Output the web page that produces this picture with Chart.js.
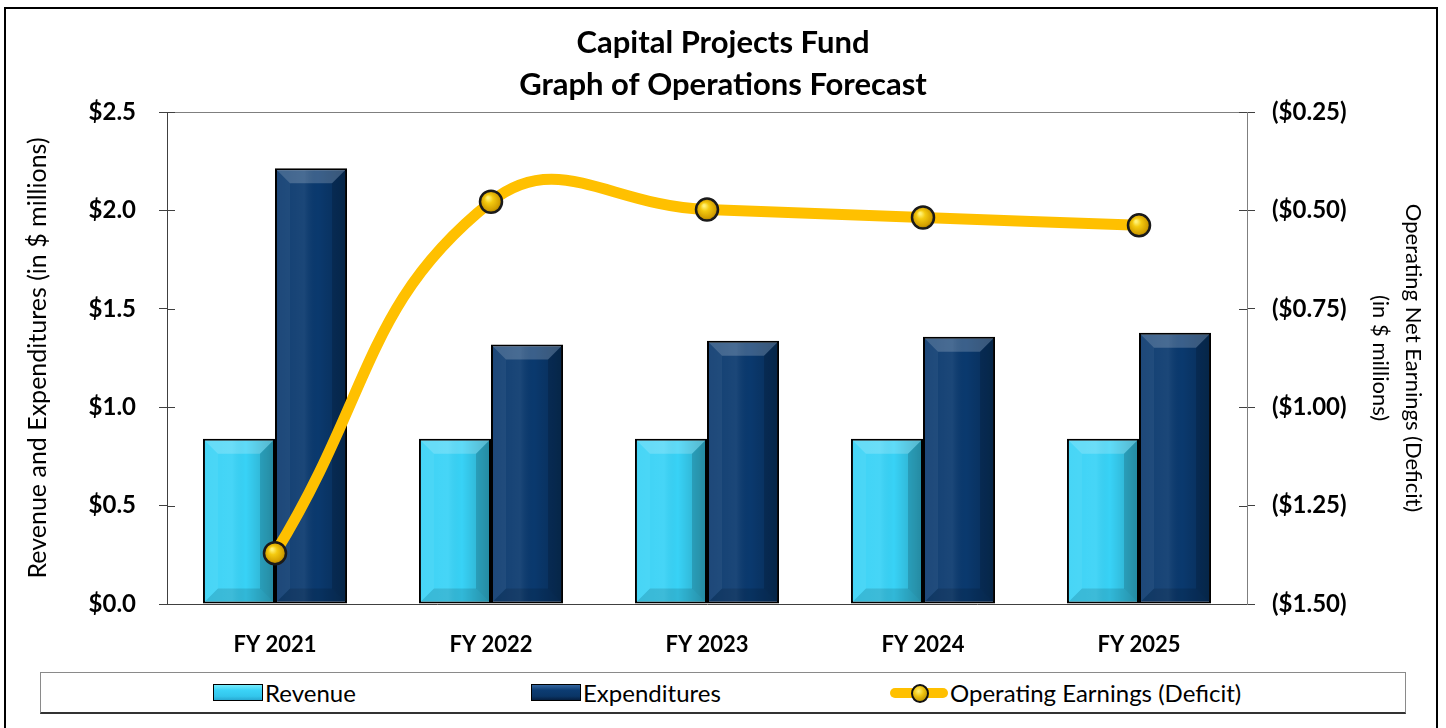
<!DOCTYPE html>
<html>
<head>
<meta charset="utf-8">
<title>Capital Projects Fund</title>
<script src="https://cdn.jsdelivr.net/npm/chart.js@4.4.0/dist/chart.umd.min.js"></script>
<style>
  html, body { margin: 0; padding: 0; background: #fff; overflow: hidden; }
  body { width: 1446px; height: 728px; position: relative; font-family: Lato, "Open Sans", sans-serif; }
  #frame { position: absolute; left: 4px; top: 7px; width: 1430px; height: 740px; border: 2px solid #000; pointer-events: none; }
  #chartBox { position: absolute; left: 0; top: 0; width: 1446px; height: 660px; }
  #legend { position: absolute; left: 40px; top: 672px; width: 1364px; height: 39px; border: 1px solid #8a8a8a; border-bottom: 2px solid #333; }
  .item { position: absolute; top: 0; height: 39px; display: flex; align-items: center; font-size: 24px; color: #000; white-space: nowrap; }
  .swatch { width: 48px; height: 15px; border: 1px solid #000; margin-right: 2px; }
  .rev { background: linear-gradient(#78ecfc, #3bd3f7 35%, #33c6ec 75%, #28a9d2); }
  .exp { background: linear-gradient(#3466a0, #0c3c72 35%, #0a3566 75%, #061f40); }
  .lineMark { position: relative; width: 58px; height: 24px; margin-right: 2px; }
  .lineMark .bar { position: absolute; left: 0; right: 0; top: 7px; height: 10px; background: #FFC000; border-radius: 5px; }
  .lineMark .dot { position: absolute; left: 21px; top: 3px; width: 14px; height: 15px; border: 2px solid #111; border-radius: 50%;
                   background: radial-gradient(circle at 40% 35%, #fff176, #eec20e 40%, #a57e00); }
</style>
</head>
<body>
<div id="chartBox"><canvas id="opsChart"></canvas></div>
<div id="legend">
  <div class="item" style="left:172px;"><div class="swatch rev"></div>Revenue</div>
  <div class="item" style="left:490px;"><div class="swatch exp"></div>Expenditures</div>
  <div class="item" style="left:849px;"><div class="lineMark"><div class="bar"></div><div class="dot"></div></div>Operating Earnings (Deficit)</div>
</div>
<div id="frame"></div>
<script>
// chart data (in $ millions)
const categories = ['FY 2021', 'FY 2022', 'FY 2023', 'FY 2024', 'FY 2025'];
const revenue = [0.84, 0.84, 0.84, 0.84, 0.84];
const expenditures = [2.214, 1.318, 1.338, 1.358, 1.378];
const operatingEarnings = [-1.371, -0.478, -0.498, -0.518, -0.538];
const leftTicks = [0, 0.5, 1.0, 1.5, 2.0, 2.5];
const rightTicks = [-1.5, -1.25, -1.0, -0.75, -0.5, -0.25];

Chart.defaults.font.family = 'Lato, "Open Sans", sans-serif';
Chart.defaults.color = '#000';

// gold sphere look for the points
function pointFill(c) {
    const chart = c.chart;
    const xs = chart.scales && chart.scales.x, ys = chart.scales && chart.scales.y1;
    if (!xs || !ys || !c.parsed) return '#E8B800';
    const px = xs.getPixelForValue(c.dataIndex);
    const py = ys.getPixelForValue(c.parsed.y);
    if (!Number.isFinite(px) || !Number.isFinite(py)) return '#E8B800';
    const g = chart.ctx.createRadialGradient(px - 3, py - 4, 1, px, py, 12);
    g.addColorStop(0, '#FFF176');
    g.addColorStop(0.3, '#F4CA10');
    g.addColorStop(0.75, '#D3A000');
    g.addColorStop(1, '#8C6A00');
    return g;
}

// bevel effect drawn on top of each bar
const bevelBars = {
    id: 'bevelBars',
    afterDatasetDraw(chart, args) {
        const meta = args.meta;
        if (meta.type !== 'bar') return;
        const ctx = chart.ctx;
        meta.data.forEach(bar => {
            const p = bar.getProps(['x', 'y', 'base', 'width'], true);
            const L = p.x - p.width / 2 + 2, R = p.x + p.width / 2 - 2;
            const T = Math.min(p.y, p.base) + 2, B = Math.max(p.y, p.base) - 2;
            const b = Math.min(13, (B - T) / 2, (R - L) / 2);
            const poly = (pts, fill) => {
                ctx.beginPath();
                ctx.moveTo(pts[0][0], pts[0][1]);
                pts.slice(1).forEach(q => ctx.lineTo(q[0], q[1]));
                ctx.closePath();
                ctx.fillStyle = fill;
                ctx.fill();
            };
            ctx.save();
            const g = ctx.createLinearGradient(L, 0, R, 0);
            g.addColorStop(0, 'rgba(255,255,255,0.03)');
            g.addColorStop(0.4, 'rgba(255,255,255,0.07)');
            g.addColorStop(0.6, 'rgba(0,0,0,0)');
            g.addColorStop(1, 'rgba(0,0,0,0.22)');
            ctx.fillStyle = g;
            ctx.fillRect(L, T, R - L, B - T);
            poly([[L, T], [R, T], [R - b, T + b], [L + b, T + b]], 'rgba(255,255,255,0.2)');
            poly([[L, B], [R, B], [R - b, B - b], [L + b, B - b]], 'rgba(0,0,0,0.12)');
            poly([[L, T], [L + b, T + b], [L + b, B - b], [L, B]], 'rgba(255,255,255,0.05)');
            poly([[R, T], [R - b, T + b], [R - b, B - b], [R, B]], 'rgba(0,0,0,0.15)');
            ctx.restore();
        });
    }
};

// top frame line and the inner half of the tick marks
const axisDecor = {
    id: 'axisDecor',
    beforeDatasetsDraw(chart) {
        const {ctx, chartArea: a, scales} = chart;
        ctx.save();
        ctx.lineWidth = 1;
        ctx.strokeStyle = '#7f7f7f';
        ctx.beginPath();
        ctx.moveTo(a.left, Math.round(a.top) + 0.5);
        ctx.lineTo(a.right, Math.round(a.top) + 0.5);
        ctx.stroke();
        ctx.strokeStyle = '#404040';
        scales.y.ticks.forEach(t => {
            const py = Math.round(scales.y.getPixelForValue(t.value)) + 0.5;
            ctx.beginPath(); ctx.moveTo(a.left, py); ctx.lineTo(a.left + 8, py); ctx.stroke();
        });
        scales.y1.ticks.forEach(t => {
            const py = Math.round(scales.y1.getPixelForValue(t.value)) + 0.5;
            ctx.beginPath(); ctx.moveTo(a.right - 8, py); ctx.lineTo(a.right, py); ctx.stroke();
        });
        ctx.restore();
    }
};

const ctx = document.getElementById('opsChart').getContext('2d');
new Chart(ctx, {
    type: 'bar',
    data: {
        labels: categories,
        datasets: [
            {
                type: 'line',
                label: 'Operating Earnings (Deficit)',
                data: operatingEarnings,
                yAxisID: 'y1',
                order: 0,
                borderColor: '#FFC000',
                borderWidth: 11,
                tension: 0.45,
                fill: false,
                pointRadius: 11,
                pointHoverRadius: 11,
                pointBorderWidth: 2.5,
                pointBorderColor: '#1a1a1a',
                pointBackgroundColor: pointFill
            },
            {
                label: 'Revenue',
                data: revenue,
                yAxisID: 'y',
                order: 1,
                backgroundColor: '#38D2F6',
                borderColor: '#000',
                borderWidth: 2,
                borderSkipped: false
            },
            {
                label: 'Expenditures',
                data: expenditures,
                yAxisID: 'y',
                order: 1,
                backgroundColor: '#0A396E',
                borderColor: '#000',
                borderWidth: 2,
                borderSkipped: false
            }
        ]
    },
    options: {
        responsive: true,
        maintainAspectRatio: false,
        animation: false,
        layout: { padding: 0 },
        datasets: { bar: { categoryPercentage: 0.667, barPercentage: 1.0 } },
        plugins: {
            legend: { display: false },
            tooltip: { enabled: false },
            title: {
                display: true,
                text: ['Capital Projects Fund', 'Graph of Operations Forecast'],
                font: { size: 31, weight: 'bold', lineHeight: 1.355 },
                color: '#000',
                padding: { top: 22, bottom: 6 }
            }
        },
        scales: {
            x: {
                grid: { display: false },
                border: { display: true, color: '#404040', width: 1 },
                ticks: { font: { size: 22, weight: 'bold' }, color: '#000', padding: 20 },
                afterFit: s => { s.height = 56; }
            },
            y: {
                position: 'left',
                min: 0, max: 2.5,
                afterBuildTicks: s => { s.ticks = leftTicks.map(v => ({ value: v })); },
                grid: { drawOnChartArea: false, drawTicks: true, tickLength: 8, color: '#404040' },
                border: { color: '#404040', width: 1 },
                ticks: {
                    font: { size: 24, weight: 'bold' }, color: '#000', padding: 23,
                    callback: v => '$' + Number(v).toFixed(1)
                },
                title: {
                    display: true,
                    text: 'Revenue and Expenditures (in $ millions)',
                    font: { size: 25 },
                    color: '#000',
                    padding: { top: 23, bottom: 0 }
                },
                afterFit: s => { s.width = 167; }
            },
            y1: {
                position: 'right',
                min: -1.5, max: -0.25,
                afterBuildTicks: s => { s.ticks = rightTicks.map(v => ({ value: v })); },
                grid: { drawOnChartArea: false, drawTicks: true, tickLength: 8, color: '#404040' },
                border: { color: '#7f7f7f', width: 1 },
                ticks: {
                    font: { size: 24, weight: 'bold' }, color: '#000', padding: 17,
                    callback: v => '($' + Math.abs(v).toFixed(2) + ')'
                },
                title: {
                    display: true,
                    text: ['Operating Net Earnings (Deficit)', '(in $ millions)'],
                    font: { size: 22, lineHeight: 1.5 },
                    color: '#000',
                    padding: { top: 16, bottom: 0 }
                },
                afterFit: s => { s.width = 199; }
            }
        }
    },
    plugins: [bevelBars, axisDecor]
});
</script>
</body>
</html>
